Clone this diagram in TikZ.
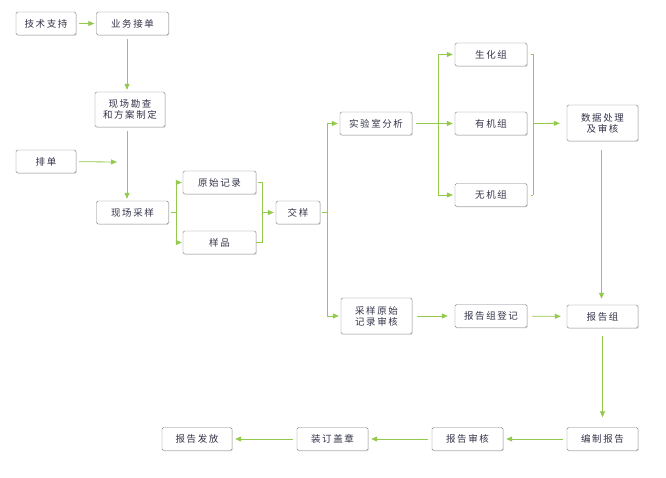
\documentclass[tikz,border=0pt]{standalone}
\usepackage{fontspec}
\setmainfont{Noto Sans CJK SC}
\usepackage{tikz}
\usetikzlibrary{arrows.meta, positioning, calc, shadows}

\definecolor{flowgreen}{HTML}{93CA4E}
\definecolor{boxline}{HTML}{7F7F86}
\definecolor{boxtext}{HTML}{34344A}

\tikzset{
  box/.style={draw=boxline, rounded corners=1.5pt, fill=white, align=center,
    text=boxtext, font=\fontsize{9.5pt}{11pt}\selectfont, inner sep=1pt,
    minimum width=72pt, minimum height=23pt,
    drop shadow={shadow xshift=0.8pt, shadow yshift=-0.8pt, opacity=0.25, fill=gray}},
  link/.style={draw=flowgreen, line width=0.8pt},
  arr/.style={link, -{Triangle[length=6pt, width=5pt]}, shorten >=2pt},
}

\begin{document}
\begin{tikzpicture}[x=1pt, y=-1pt, >=Stealth]
\useasboundingbox (0,0) rectangle (666,478);
% left column
\node[box, minimum width=60pt] (jszc) at (46,23.5) {技\,术\,支\,持};
\node[box] (ywjd) at (132.5,23.5) {业\,务\,接\,单};
\node[box, minimum width=70pt, minimum height=35pt] (xckc) at (130,109.5) {现\,场\,勘\,查\\和\,方\,案\,制\,定};
\node[box, minimum width=60pt] (pd) at (46,161.5) {排\,单};
\node[box] (xccy) at (132.5,212.5) {现\,场\,采\,样};
\coordinate (pdend) at (117,162);
% samples
\node[box, minimum width=73pt] (ysjl) at (219.5,182.5) {原\,始\,记\,录};
\node[box, minimum width=73pt] (yp) at (219.5,242.5) {样\,品};
\node[box, minimum width=44pt] (jy) at (298,212.5) {交\,样};
% lab branch
\node[box] (sysfx) at (376,123.5) {实\,验\,室\,分\,析};
\node[box] (shz) at (491,54.5) {生\,化\,组};
\node[box] (yjz) at (491,123.5) {有\,机\,组};
\node[box] (wjz) at (491,195) {无\,机\,组};
\node[box, minimum width=71pt, minimum height=36pt] (sjcl) at (602.5,123) {数\,据\,处\,理\\及\,审\,核};
% report branch
\node[box, minimum width=71pt, minimum height=36pt] (cysh) at (376.5,316) {采\,样\,原\,始\\记\,录\,审\,核};
\node[box] (bgdj) at (491,316) {报\,告\,组\,登\,记};
\node[box, minimum width=71pt] (bgz) at (602.5,316.5) {报\,告\,组};
% bottom row
\node[box, minimum width=71pt] (bzbg) at (602.5,439) {编\,制\,报\,告};
\node[box, minimum width=71pt] (bgsh) at (467.5,439) {报\,告\,审\,核};
\node[box, minimum width=71pt] (zdgz) at (332.5,439) {装\,订\,盖\,章};
\node[box, minimum width=70pt] (bgff) at (197,439) {报\,告\,发\,放};

% joints
\coordinate (jA) at (176,212.5);
\coordinate (jB) at (262,182.5);
\coordinate (jC) at (262,242.5);
\coordinate (jD) at (262,212.5);
\coordinate (jE) at (327,212.5);
\coordinate (jF) at (438,123.5);
\coordinate (jG) at (533,54.5);
\coordinate (jH) at (533,195);
\coordinate (jI) at (533,123.5);

% connectors
\draw[arr, shorten <=3pt] (jszc) -- (ywjd);
\draw[arr, shorten <=4pt] (ywjd.south) ++(-5.5,0) coordinate (yv) -- (yv |- xckc.north);
\draw[arr, shorten <=4pt] (xckc.south -| yv) -- (yv |- xccy.north);
\draw[arr, shorten <=3pt, shorten >=0pt] (pd) -- (pdend);
\draw[link, shorten <=2pt] (xccy) -- (jA);
\draw[arr, shorten >=1pt] (jA) |- (ysjl);
\draw[arr, shorten >=1pt] (jA) |- (yp);
\draw[link, shorten <=2pt] (ysjl) -- (jB) -- (jC) -- (yp);
\draw[arr] (jD) -- (jy);
\draw[link, shorten <=2pt] (jy) -- (jE);
\draw[arr] (jE) |- (sysfx);
\draw[arr] (jE) |- (cysh);
\draw[link, shorten <=4pt] (sysfx) -- (jF);
\draw[arr] (jF) |- (shz);
\draw[arr] (jF) -- (yjz);
\draw[arr] (jF) |- (wjz);
\draw[link, shorten <=4pt] (shz) -- (jG) -- (jH);
\draw[link, shorten <=4pt] (wjz) -- (jH);
\draw[arr, shorten >=7pt] (jI) -- (sjcl);
\draw[arr, shorten <=5pt, shorten >=7pt] (cysh) -- (bgdj);
\draw[arr, shorten <=5pt, shorten >=6pt] (bgdj) -- (bgz);
\draw[arr, shorten <=9pt, shorten >=6pt] (sjcl.south) ++(-1,0) coordinate (sv) -- (sv |- bgz.north);
\draw[arr, shorten <=8pt, shorten >=10pt] (bgz) -- (bzbg);
\draw[arr, shorten <=4pt, shorten >=3pt] (bzbg) -- (bgsh);
\draw[arr, shorten <=4pt, shorten >=3pt] (bgsh) -- (zdgz);
\draw[arr, shorten <=4pt, shorten >=3pt] (zdgz) -- (bgff);
\end{tikzpicture}
\end{document}
